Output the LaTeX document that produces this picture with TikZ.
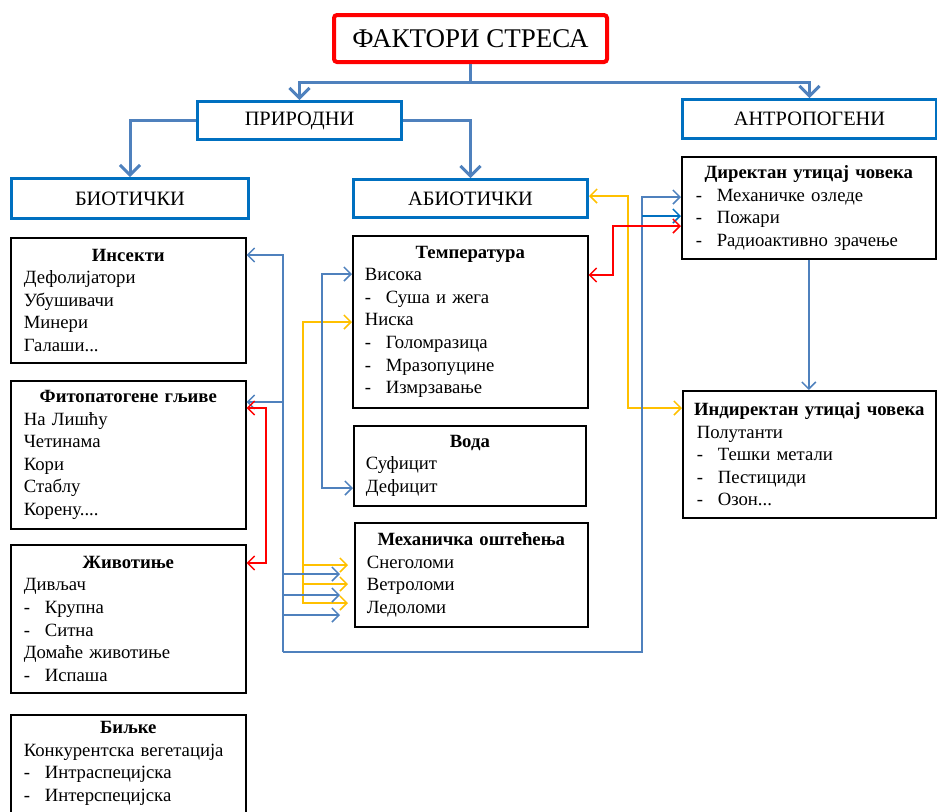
\documentclass[tikz,border=0pt]{standalone}
\usepackage{fontspec}
\setmainfont{Liberation Serif}
\usetikzlibrary{arrows.meta,positioning}

\definecolor{boxblue}{RGB}{0,112,192}
\definecolor{lineblue}{RGB}{79,129,189}
\definecolor{lineyellow}{RGB}{255,192,0}
\definecolor{linered}{RGB}{255,0,0}

\newcommand{\bodyfont}{\fontsize{9.35}{11.3}\selectfont}
\newcommand{\hd}[1]{\makebox[\hsize]{\textbf{#1}}}
\newcommand{\itm}[1]{\makebox[10.5pt][l]{-}#1}

\begin{document}
\begin{tikzpicture}[x=0.5pt,y=-0.5pt,>={Straight Barb[length=3.5pt,width=7pt]}]
	\useasboundingbox (0,0) rectangle (937,811);
	\tikzset{every node/.style={anchor=north west,inner sep=0pt}}
	\tikzset{head/.style={draw=boxblue,line width=1.5pt,font=\fontsize{10.2}{12}\selectfont}}
	\tikzset{listbox/.style={draw,line width=0.8pt,inner xsep=6.5pt,text width=#1,align=left,font=\bodyfont}}
	\tikzset{tree/.style={draw=lineblue,line width=1.5pt,-{Straight Barb[length=5pt,width=10pt]}}}
	\tikzset{blink/.style={draw=lineblue,line width=0.75pt}}
	\tikzset{ylink/.style={draw=lineyellow,line width=0.75pt}}
	\tikzset{rlink/.style={draw=linered,line width=0.75pt}}
	
	\node[draw=linered,line width=2pt,rounded corners=1.5pt,minimum width=136.5pt,minimum height=23.5pt,font=\fontsize{13.5}{16}\selectfont] (stres) at (332,13) {ФАКТОРИ СТРЕСА\hspace{6pt}};
	\node[head,minimum width=102pt,minimum height=19pt] (prirodni) at (196,100) {ПРИРОДНИ};
	\node[head,minimum width=127pt,minimum height=19.5pt] (antropogeni) at (681,98) {АНТРОПОГЕНИ};
	\node[head,minimum width=118.5pt,minimum height=20pt] (bioticki) at (10,177) {БИОТИЧКИ};
	\node[head,minimum width=117pt,minimum height=19pt] (abioticki) at (352,178) {АБИОТИЧКИ};
	
	\node[listbox=104.5pt,minimum height=62.5pt] (insekti) at (10,237) {\hd{Инсекти}\\Дефолијатори\\Убушивачи\\Минери\\Галаши...};
	\node[listbox=104.5pt,minimum height=74pt] (fito) at (10,380) {\hd{Фитопатогене гљиве}\\На Лишћу\\Четинама\\Кори\\Стаблу\\Корену....};
	\node[listbox=104.5pt,minimum height=74pt] (zivotinje) at (10,544) {\hd{Животиње}\\Дивљач\\\itm{Крупна}\\\itm{Ситна}\\Домаће животиње\\\itm{Испаша}};
	\node[listbox=104.5pt,inner ysep=3.2pt,text depth=50pt] (biljke) at (10,714) {\hd{Биљке}\\Конкурентска вегетација\\\itm{Интраспецијска}\\\itm{Интерспецијска}};
	
	\node[listbox=105.5pt,inner xsep=6pt,minimum height=86pt] (temp) at (352,235) {\hd{Температура}\\Висока\\\itm{Суша и жега}\\Ниска\\\itm{Голомразица}\\\itm{Мразопуцине}\\\itm{Измрзавање}};
	\node[listbox=104pt,inner xsep=6pt,minimum height=40pt] (voda) at (353,425) {\hd{Вода}\\Суфицит\\Дефицит};
	\node[listbox=104.5pt,inner xsep=6pt,minimum height=52pt] (meh) at (354,522) {\hd{Механичка оштећења}\\Снеголоми\\Ветроломи\\Ледоломи};
	
	\node[listbox=113pt,inner xsep=7pt,minimum height=51pt] (direktan) at (681,156) {\hd{Директан утицај човека}\\\itm{Механичке озледе}\\\itm{Пожари}\\\itm{Радиоактивно зрачење}};
	\node[listbox=112.5pt,inner xsep=7pt,minimum height=63.5pt] (indirektan) at (682,390) {\hd{Индиректан утицај човека}\\Полутанти\\\itm{Тешки метали}\\\itm{Пестициди}\\\itm{Озон...}};
	
	% hijerarhija
	\coordinate (hub) at (stres.south |- 0,82);
	\draw[draw=lineblue,line width=1.5pt] (stres.south) -- (hub);
	\draw[tree] (hub) -| (prirodni.north);
	\draw[tree] (hub) -| (antropogeni.north);
	\draw[tree] (prirodni.west) -| (bioticki.north);
	\draw[tree] (prirodni.east) -| (abioticki.north);
	
	% veze
	\coordinate (y1) at (303,603);
	\draw[ylink,<->,shorten >=3pt] (temp.west |- 0,322) -| (y1) -- (meh.west |- 0,603);
	\draw[ylink,->,shorten >=3pt] (y1 |- 0,565) -- (meh.west |- 0,565);
	\draw[ylink,->,shorten >=3pt] (y1 |- 0,584) -- (meh.west |- 0,584);
	\draw[ylink,<->] (abioticki.east |- 0,196) -| (628,408) -- (indirektan.west |- 0,408);
	
	\coordinate (b1) at (283,652);
	\coordinate (b2) at (642,652);
	\draw[blink,->] (b1) |- (insekti.east |- 0,255);
	\draw[blink,->] (b1 |- 0,402) -- (fito.east |- 0,402);
	\draw[blink,->,shorten >=7pt] (b1 |- 0,574) -- (meh.west |- 0,574);
	\draw[blink,->,shorten >=7pt] (b1 |- 0,595) -- (meh.west |- 0,595);
	\draw[blink,->,shorten >=7pt] (b1 |- 0,615) -- (meh.west |- 0,615);
	\draw[blink,->] (b1) -- (b2) |- (direktan.west |- 0,197);
	\draw[blink,draw=boxblue,->] (b2 |- 0,216) -- (direktan.west |- 0,216);
	\draw[blink,<->] (temp.west |- 0,274) -| (322,488) -- (voda.west |- 0,488);
	\draw[blink,->] (direktan.south) -- (direktan.south |- indirektan.north);
	
	\draw[rlink,<->] (fito.east |- 0,408) -| (266,563) -- (zivotinje.east |- 0,563);
	\draw[rlink,<->] (temp.east |- 0,275) -| (613,226) -- (direktan.west |- 0,226);
\end{tikzpicture}
\end{document}
